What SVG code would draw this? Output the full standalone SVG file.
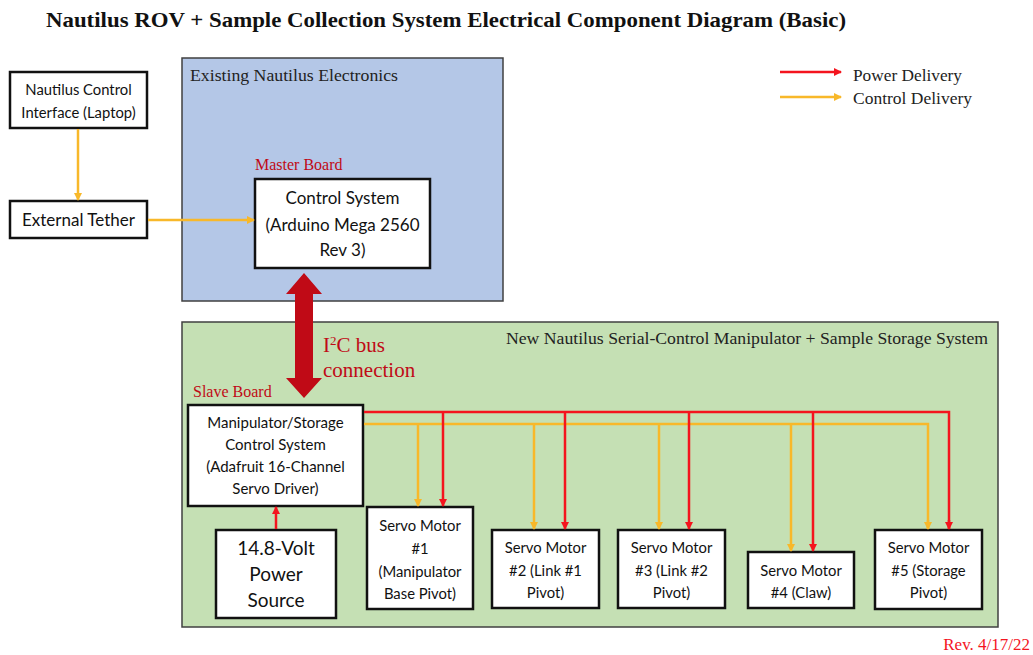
<svg xmlns="http://www.w3.org/2000/svg" width="1033" height="655" viewBox="0 0 1033 655">
<style>
.serif{font-family:"Liberation Serif","DejaVu Serif",serif}
.sans{font-family:Lato,"Open Sans","Liberation Sans",sans-serif;fill:#111}
.box{fill:#fff;stroke:#111;stroke-width:2.5}
.c{text-anchor:middle}
.pw{stroke:#F4141E;stroke-width:2.5;fill:none}
.ct{stroke:#F8B82A;stroke-width:2.5;fill:none}
.dr{fill:#C00A16}
</style>
<defs>
<marker id="ar" markerWidth="8" markerHeight="8" refX="7" refY="4" orient="auto" markerUnits="userSpaceOnUse"><path d="M0,0L8,4L0,8Z" fill="#F4141E"/></marker>
<marker id="ao" markerWidth="8" markerHeight="8" refX="7" refY="4" orient="auto" markerUnits="userSpaceOnUse"><path d="M0,0L8,4L0,8Z" fill="#F8B82A"/></marker>
</defs>
<rect width="1033" height="655" fill="#fff"/>
<text class="serif" x="46" y="27" font-size="21" font-weight="bold" textLength="800" lengthAdjust="spacingAndGlyphs" fill="#111">Nautilus ROV + Sample Collection System Electrical Component Diagram (Basic)</text>

<g id="existing">
<rect x="182" y="58" width="321" height="243" fill="#B4C7E7" stroke="#404040" stroke-width="1.5"/>
<text class="serif" x="190" y="81" font-size="16" textLength="208" lengthAdjust="spacingAndGlyphs" fill="#222">Existing Nautilus Electronics</text>
</g>
<g id="new-system">
<rect x="182" y="322" width="816" height="305" fill="#C5E0B4" stroke="#404040" stroke-width="1.5"/>
<text class="serif" x="988" y="344" font-size="16" text-anchor="end" textLength="482" lengthAdjust="spacingAndGlyphs" fill="#222">New Nautilus Serial-Control Manipulator + Sample Storage System</text>
</g>

<g id="legend">
<line class="pw" x1="780" y1="72" x2="841" y2="72" marker-end="url(#ar)"/>
<line class="ct" x1="780" y1="97" x2="841" y2="97" marker-end="url(#ao)"/>
<text class="serif" x="853" y="81" font-size="16.5" textLength="109" lengthAdjust="spacingAndGlyphs" fill="#222">Power Delivery</text>
<text class="serif" x="853" y="104" font-size="16.5" textLength="119" lengthAdjust="spacingAndGlyphs" fill="#222">Control Delivery</text>
</g>

<g id="laptop">
<rect class="box" x="10" y="72" width="137" height="56"/>
<text class="sans c" x="78.5" y="95" font-size="14.8">Nautilus Control</text>
<text class="sans c" x="78.5" y="118" font-size="14.8">Interface (Laptop)</text>
</g>
<g id="tether">
<rect class="box" x="10" y="201" width="137" height="37"/>
<text class="sans c" x="78.5" y="226" font-size="17">External Tether</text>
</g>
<g id="master">
<text class="serif" x="255" y="170" font-size="16" fill="#C00A16">Master Board</text>
<rect class="box" x="255" y="179" width="175" height="89"/>
<text class="sans c" x="342.5" y="204" font-size="17">Control System</text>
<text class="sans c" x="342.5" y="231" font-size="17">(Arduino Mega 2560</text>
<text class="sans c" x="342.5" y="256" font-size="17">Rev 3)</text>
</g>
<g id="slave">
<text class="serif" x="193" y="397" font-size="16" fill="#C00A16">Slave Board</text>
<rect class="box" x="188" y="405" width="175" height="101"/>
<text class="sans c" x="275.5" y="428" font-size="15">Manipulator/Storage</text>
<text class="sans c" x="275.5" y="450" font-size="15">Control System</text>
<text class="sans c" x="275.5" y="472" font-size="15">(Adafruit 16-Channel</text>
<text class="sans c" x="275.5" y="494" font-size="15">Servo Driver)</text>
</g>
<g id="power">
<rect class="box" x="216" y="530" width="120" height="88"/>
<text class="sans c" x="276" y="555" font-size="19">14.8-Volt</text>
<text class="sans c" x="276" y="581" font-size="19">Power</text>
<text class="sans c" x="276" y="607" font-size="19">Source</text>
</g>
<g id="servo1">
<rect class="box" x="367" y="507" width="106" height="102"/>
<text class="sans c" x="420" y="531" font-size="14.8">Servo Motor</text>
<text class="sans c" x="420" y="554" font-size="14.8">#1</text>
<text class="sans c" x="420" y="577" font-size="14.8">(Manipulator</text>
<text class="sans c" x="420" y="599" font-size="14.8">Base Pivot)</text>
</g>
<g id="servo2">
<rect class="box" x="492" y="530" width="107" height="78"/>
<text class="sans c" x="545.5" y="553" font-size="14.8">Servo Motor</text>
<text class="sans c" x="545.5" y="576" font-size="14.8">#2 (Link #1</text>
<text class="sans c" x="545.5" y="598" font-size="14.8">Pivot)</text>
</g>
<g id="servo3">
<rect class="box" x="618" y="530" width="107" height="78"/>
<text class="sans c" x="671.5" y="553" font-size="14.8">Servo Motor</text>
<text class="sans c" x="671.5" y="576" font-size="14.8">#3 (Link #2</text>
<text class="sans c" x="671.5" y="598" font-size="14.8">Pivot)</text>
</g>
<g id="servo4">
<rect class="box" x="748" y="552" width="106" height="56"/>
<text class="sans c" x="801" y="576" font-size="14.8">Servo Motor</text>
<text class="sans c" x="801" y="598" font-size="14.8">#4 (Claw)</text>
</g>
<g id="servo5">
<rect class="box" x="875" y="530" width="107" height="79"/>
<text class="sans c" x="928.5" y="553" font-size="14.8">Servo Motor</text>
<text class="sans c" x="928.5" y="576" font-size="14.8">#5 (Storage</text>
<text class="sans c" x="928.5" y="598" font-size="14.8">Pivot)</text>
</g>

<g id="connectors">
<line class="ct" x1="78" y1="129" x2="78" y2="200" marker-end="url(#ao)"/>
<line class="ct" x1="148" y1="220" x2="254" y2="220" marker-end="url(#ao)"/>
<line class="pw" x1="276" y1="529" x2="276" y2="507" marker-end="url(#ar)"/>
<path class="dr" d="M304,273 L322,294 L313,294 L313,378 L322,378 L304,398 L286,378 L295,378 L295,294 L286,294 Z"/>
<path class="pw" d="M364,412 H949 V529"/>
<path class="ct" d="M364,424 H928 V529"/>
<line class="ct" x1="418" y1="424" x2="418" y2="506" marker-end="url(#ao)"/>
<line class="pw" x1="443" y1="412" x2="443" y2="506" marker-end="url(#ar)"/>
<line class="ct" x1="534" y1="424" x2="534" y2="529" marker-end="url(#ao)"/>
<line class="pw" x1="565" y1="412" x2="565" y2="529" marker-end="url(#ar)"/>
<line class="ct" x1="659" y1="424" x2="659" y2="529" marker-end="url(#ao)"/>
<line class="pw" x1="689" y1="412" x2="689" y2="529" marker-end="url(#ar)"/>
<line class="ct" x1="791" y1="424" x2="791" y2="551" marker-end="url(#ao)"/>
<line class="pw" x1="813" y1="412" x2="813" y2="551" marker-end="url(#ar)"/>
<line class="ct" x1="928" y1="520" x2="928" y2="529" marker-end="url(#ao)"/>
<line class="pw" x1="949" y1="520" x2="949" y2="529" marker-end="url(#ar)"/>
</g>
<text class="serif" x="323" y="352" font-size="21" fill="#C00A16">I<tspan font-size="13" dy="-7">2</tspan><tspan dy="7">C bus</tspan></text>
<text class="serif" x="323" y="377" font-size="21" fill="#C00A16">connection</text>
<text class="serif" x="1030" y="650" font-size="17" text-anchor="end" fill="#F4141E">Rev. 4/17/22</text>
</svg>
